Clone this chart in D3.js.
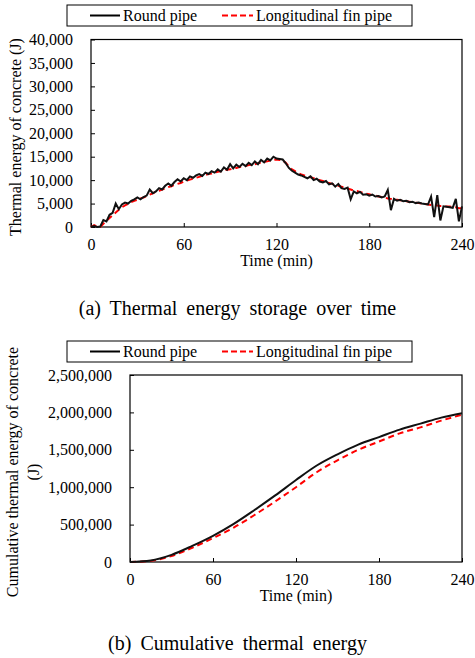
<!DOCTYPE html>
<html lang="en">
<head>
  <meta charset="UTF-8">
  <title>Thermal energy</title>
  <style>
    body { margin: 0; background: #fff; }
    svg { display: block; font-family: "Liberation Serif", "Times New Roman", serif; }
  </style>
</head>
<body>
  <div id="chart"></div>

  <script src="https://d3js.org/d3.v7.min.js"></script>
  <script>

    const width = 475,
          height = 658;

    // (a) thermal energy, every 2 min
    const timeA = d3.range(0, 241, 2);
    const roundA = [
      0, 200, 0, 100, 1500, 1200, 2600, 3000, 5000, 3800,
      4800, 5200, 5000, 5600, 5900, 6300, 5900, 6400, 6700, 8000,
      7200, 7600, 8300, 8000, 8800, 9300, 8800, 9600, 10200, 9700,
      10400, 10000, 10800, 10500, 11000, 11300, 10900, 11600, 11300, 11900,
      11600, 12300, 11800, 12700, 12200, 13400, 12500, 13300, 12800, 13500,
      13000, 13700, 13200, 14000, 13400, 14300, 13800, 14600, 14200, 15000,
      14600, 14500, 14400, 13600, 12600, 12000, 11600, 11200, 11000, 10700,
      10400, 10800, 10000, 10300, 9700, 9500, 9800, 9100, 9300, 8600,
      9200, 8300, 8100, 8400, 5900, 7600, 7200, 7500, 6900, 7000,
      6700, 6900, 6500, 6600, 6300, 6500, 7900, 3600, 6000, 5600,
      5800, 5500, 5600, 5300, 5400, 5100, 5200, 5000, 4900, 4800,
      6500, 2100, 6800, 1400, 4400, 4300, 4200, 4100, 6000, 1200,
      4400
    ];
    const finA = [
      0, 400, 100, 0, 700, 1300, 1900, 2500, 3100, 3700,
      4200, 4600, 4900, 5300, 5600, 5800, 6100, 6300, 6600, 6900,
      7200, 7500, 7700, 8000, 8200, 8500, 8700, 9000, 9200, 9400,
      9700, 9900, 10100, 10300, 10500, 10700, 10900, 11100, 11300, 11400,
      11600, 11800, 11900, 12100, 12200, 12300, 12500, 12600, 12800, 12900,
      13000, 13200, 13300, 13400, 13600, 13700, 13900, 14000, 14200, 14300,
      14400, 14300, 14200, 13700, 12900, 12300, 11900, 11500, 11200, 11000,
      10800, 10600, 10400, 10200, 10000, 9800, 9600, 9400, 9200, 9000,
      8800, 8600, 8400, 8200, 8000, 7800, 7700, 7500, 7300, 7100,
      7000, 6800, 6700, 6500, 6400, 6300, 6100, 6000, 5900, 5800,
      5700, 5600, 5500, 5400, 5300, 5200, 5100, 5000, 4900, 4800,
      4700, 4700, 4600, 4500, 4500, 4400, 4400, 4300, 4200, 4000,
      4000
    ];

    // (b) cumulative energy, every 15 min
    const timeB = d3.range(0, 241, 15);
    const roundB = [0, 20000, 95000, 215000, 350000, 510000, 695000, 890000, 1096000,
                    1290000, 1440000, 1570000, 1670000, 1770000, 1850000, 1930000, 1990000];
    const finB = [0, 15000, 80000, 190000, 320000, 460000, 628000, 810000, 1000000,
                  1200000, 1360000, 1500000, 1610000, 1720000, 1800000, 1890000, 1970000];

    const xTicks = [0, 60, 120, 180, 240];
    const yTicksA = d3.range(0, 40001, 5000);
    const yTicksB = d3.range(0, 2500001, 500000);
    const seriesNames = ["Round pipe", "Longitudinal fin pipe"];

    const svg = d3.select("#chart")
      .append("svg")
      .attr("width", width)
      .attr("height", height);

    const fmt = d3.format(",");

    function panel(cfg) {
      const x = d3.scaleLinear([0, 240], [cfg.left, cfg.right]);
      const y = d3.scaleLinear([0, cfg.ymax], [cfg.bottom, cfg.top]);
      const g = svg.append("g");

      // legend
      const lg = g.append("g").attr("transform", `translate(0,${cfg.legendY})`);
      lg.append("rect")
        .attr("x", 67).attr("y", 0).attr("width", 345).attr("height", 21)
        .attr("fill", "none").attr("stroke", "#000").attr("stroke-width", 1);
      lg.append("line").attr("x1", 90).attr("x2", 120).attr("y1", 10.5).attr("y2", 10.5)
        .attr("stroke", "#000").attr("stroke-width", 2);
      lg.append("text").attr("x", 123).attr("y", 16).attr("font-size", 16).text(seriesNames[0]);
      lg.append("line").attr("x1", 222).attr("x2", 253).attr("y1", 10.5).attr("y2", 10.5)
        .attr("stroke", "#ff0000").attr("stroke-width", 2).attr("stroke-dasharray", "6,3");
      lg.append("text").attr("x", 256).attr("y", 16).attr("font-size", 16).text(seriesNames[1]);

      // axes, ticks inside
      g.append("g")
        .attr("transform", `translate(0,${cfg.bottom})`)
        .call(d3.axisBottom(x).tickValues(xTicks).tickSize(-4).tickPadding(12))
        .call(a => a.select(".domain").remove())
        .call(a => a.selectAll("text").attr("font-size", 16).attr("font-family", "Liberation Serif").attr("fill", "#000"));

      g.append("g")
        .attr("transform", `translate(${cfg.left},0)`)
        .call(d3.axisLeft(y).tickValues(cfg.yTicks).tickFormat(fmt).tickSize(-4).tickPadding(18))
        .call(a => a.select(".domain").remove())
        .call(a => a.selectAll("text").attr("font-size", 16).attr("font-family", "Liberation Serif").attr("fill", "#000"));

      g.append("rect")
        .attr("x", cfg.left).attr("y", cfg.top)
        .attr("width", cfg.right - cfg.left).attr("height", cfg.bottom - cfg.top)
        .attr("fill", "none").attr("stroke", "#000").attr("stroke-width", 1.2);

      const line = d3.line()
        .x((d, i) => x(cfg.time[i]))
        .y(d => y(d))
        .curve(cfg.curve);

      g.append("path").datum(cfg.fin)
        .attr("d", line).attr("fill", "none")
        .attr("stroke", "#ff0000").attr("stroke-width", 2).attr("stroke-dasharray", "6,4");
      g.append("path").datum(cfg.round)
        .attr("d", line).attr("fill", "none")
        .attr("stroke", "#111").attr("stroke-width", 2);

      // axis titles
      g.append("text")
        .attr("x", (cfg.left + cfg.right) / 2).attr("y", cfg.bottom + 39)
        .attr("text-anchor", "middle").attr("font-size", 16)
        .text("Time (min)");

      const yl = g.append("text")
        .attr("transform", `translate(${cfg.ylabelX},${cfg.ylabelY}) rotate(-90)`)
        .attr("text-anchor", "middle").attr("font-size", 16);
      cfg.ylabel.forEach((t, i) => {
        yl.append("tspan").attr("x", 0).attr("dy", i === 0 ? 0 : 21).text(t);
      });

      g.append("text")
        .attr("x", width / 2).attr("y", cfg.captionY)
        .attr("text-anchor", "middle").attr("font-size", 20)
        .attr("word-spacing", 4)
        .text(cfg.caption);
    }

    panel({
      left: 91, right: 462, top: 39.5, bottom: 227,
      ymax: 40000, yTicks: yTicksA,
      time: timeA, round: roundA, fin: finA, curve: d3.curveLinear,
      legendY: 5,
      ylabel: ["Thermal energy of concrete (J)"], ylabelX: 21, ylabelY: 137,
      caption: "(a) Thermal energy storage over time", captionY: 315
    });

    panel({
      left: 130, right: 462, top: 375, bottom: 562,
      ymax: 2500000, yTicks: yTicksB,
      time: timeB, round: roundB, fin: finB, curve: d3.curveMonotoneX,
      legendY: 341,
      ylabel: ["Cumulative thermal energy of concrete", "(J)"], ylabelX: 18, ylabelY: 472,
      caption: "(b) Cumulative thermal energy", captionY: 650
    });

  </script>
</body>
</html>
